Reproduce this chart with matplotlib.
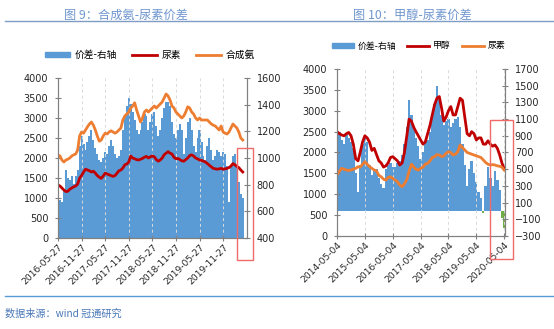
import numpy as np
import pandas as pd
import matplotlib
matplotlib.use("Agg")
import matplotlib.pyplot as plt
from matplotlib.patches import Rectangle, Patch
from matplotlib.lines import Line2D

plt.rcParams['font.family'] = ['Noto Sans CJK SC', 'DejaVu Sans']

# =========================
# DATA - chart 9 (half-monthly, from 2016-05-27)
# =========================
ammonia = [2075, 2050, 1950, 1900, 1950, 1970, 2000, 2050, 2080, 2100,
           2200, 2550, 2650, 2620, 2700, 2780, 2850, 2900, 2820, 2700,
           2550, 2420, 2450, 2550, 2620, 2600, 2650, 2680, 2650, 2620,
           2650, 2700, 2750, 2950, 3050, 3100, 3150, 3250, 3300, 3380,
           3200, 3050, 2900, 3000, 3150, 3200, 3150, 3200, 3250, 3300,
           3250, 3300, 3350, 3400, 3500, 3600, 3550, 3450, 3300, 3250,
           3150, 3100, 3050, 3000, 3050, 3150, 3280, 3250, 3150, 3100,
           3000, 2950, 3000, 2950, 2950, 2950, 2950, 2900, 2850, 2820,
           2800, 2750, 2700, 2800, 2650, 2620, 2600, 2650, 2750, 2850,
           2800, 2750, 2650, 2500, 2450]
urea9 = [1325, 1300, 1250, 1200, 1160, 1170, 1220, 1250, 1280, 1300,
         1350, 1500, 1560, 1650, 1720, 1700, 1680, 1650, 1670, 1620,
         1560, 1520, 1490, 1550, 1620, 1600, 1580, 1560, 1540, 1560,
         1620, 1680, 1700, 1750, 1830, 1850, 1900, 2050, 2000, 1980,
         1960, 1950, 1970, 1990, 2020, 2040, 2000, 2030, 2050, 2030,
         1960, 1920, 1950, 2000, 2080, 2120, 2160, 2120, 2100, 2020,
         1980, 1990, 1960, 1930, 1920, 1960, 2000, 2060, 2080, 2050,
         2000, 1980, 1950, 1940, 1920, 1900, 1860, 1820, 1780, 1740,
         1730, 1720, 1730, 1740, 1720, 1730, 1740, 1760, 1800, 1860,
         1830, 1790, 1760, 1700, 1650]
spread9 = [730, 685, 670, 760, 910, 850, 835, 865, 805, 865,
           910, 1090, 1165, 1105, 1060, 1120, 1165, 1210, 1135, 1075,
           1030, 985, 970, 1000, 1045, 1030, 1090, 1135, 1090, 1030,
           1000, 1015, 1060, 1210, 1315, 1390, 1450, 1405, 1345, 1285,
           1210, 1180, 1210, 1270, 1330, 1315, 1210, 1270, 1330, 1345,
           1240, 1165, 1210, 1300, 1375, 1420, 1420, 1390, 1270, 1180,
           1150, 1210, 1255, 1210, 1030, 1150, 1270, 1300, 1210, 1090,
           1045, 1150, 1210, 1120, 1015, 985, 1090, 1150, 1060, 985,
           1015, 1060, 1045, 1015, 1045, 1030, 940, 670, 940, 1015,
           1030, 940, 820, 730, 700]
dates9 = pd.Timestamp("2016-05-27") + pd.to_timedelta(np.arange(len(ammonia)) * 15.2, unit="D")
ticklabels9 = ["2016-05-27", "2016-11-27", "2017-05-27", "2017-11-27",
               "2018-05-27", "2018-11-27", "2019-05-27", "2019-11-27"]
xend9 = "2020-05-27"

# =========================
# DATA - chart 10 (monthly, from 2014-05)
# =========================
methanol = [2500, 2450, 2420, 2400, 2450, 2480, 2400, 2200, 1850, 1800,
            2000, 2250, 2400, 2350, 2250, 2050, 2100, 1950, 1800, 1750,
            1650, 1680, 1750, 1880, 1900, 1850, 1800, 1700, 1750, 2000,
            2400, 2800, 2750, 2600, 2500, 2400, 2300, 2200, 2250, 2450,
            2650, 2900, 3150, 3300, 3340, 3050, 2750, 2850, 3000, 3100,
            2900, 2900, 3100, 3300, 3250, 2850, 2450, 2400, 2500, 2450,
            2300, 2350, 2350, 2200, 2200, 2280, 2200, 2150, 2180, 2100,
            1950, 1750, 1600]
urea10 = [1460, 1550, 1620, 1600, 1580, 1570, 1580, 1600, 1620, 1660,
          1650, 1720, 1780, 1720, 1660, 1620, 1580, 1560, 1450, 1420,
          1360, 1340, 1400, 1420, 1380, 1340, 1300, 1220, 1180, 1250,
          1350, 1550, 1720, 1650, 1600, 1580, 1620, 1650, 1720, 1740,
          1800, 1880, 1900, 1950, 1940, 1900, 1920, 1980, 2020, 2000,
          1940, 1960, 2020, 2180, 2120, 2060, 2000, 1980, 1960, 1940,
          1920, 1900, 1880, 1820, 1760, 1720, 1700, 1710, 1700, 1680,
          1670, 1650, 1580]
spread10 = [1050, 950, 850, 800, 925, 875, 825, 750, 450, 225,
            550, 800, 900, 825, 550, 425, 475, 500, 400, 325,
            275, 500, 550, 575, 525, 525, 575, 600, 675, 800,
            1000, 1325, 1150, 1000, 875, 775, 625, 700, 825, 850,
            950, 1150, 1275, 1500, 1350, 1150, 1025, 1075, 1100, 1000,
            1050, 1100, 1125, 1000, 800, 550, 300, 500, 600, 450,
            350, 225, 150, -25, 300, 525, 400, 300, 475, 375,
            250, -80, -200]
dates10 = pd.date_range("2014-05-01", periods=len(methanol), freq="MS") + pd.Timedelta(days=3)
ticklabels10 = ["2014-05-04", "2015-05-04", "2016-05-04", "2017-05-04",
                "2018-05-04", "2019-05-04", "2020-05-04"]

BLUE = "#5b9bd5"
GREEN = "#70ad47"
RED = "#c00000"
ORANGE = "#ed7d31"
TITLE_C = "#6f96cf"
BOX_C = "#f06a6a"


def style_axes(ax, ax2, labels):
    for a in (ax, ax2):
        for s in a.spines.values():
            s.set_color("#808080")
            s.set_linewidth(0.8)
        a.spines['top'].set_visible(False)
        a.tick_params(axis='y', direction='inout', length=4, width=0.8, color="#808080",
                      labelsize=7, pad=5, labelfontfamily='DejaVu Sans', labelcolor="#262626")
    ax.tick_params(axis='x', direction='inout', length=4, width=0.8, color="#808080",
                   labelsize=6.6, pad=1, labelfontfamily='DejaVu Sans', labelcolor="#262626")
    ticks = pd.to_datetime(labels)
    ax.set_xticks(ticks)
    ax.set_xticklabels(labels, rotation=45, ha='right', rotation_mode='anchor')
    for t in ticks:
        ax.axvline(t, color="#d9d9d9", linestyle=(0, (3, 3)), linewidth=0.7, zorder=0)


fig = plt.figure(figsize=(5.54, 3.29), dpi=100)

# -------------------------
# Chart 9
# -------------------------
ax1 = fig.add_axes([0.1047, 0.2766, 0.341, 0.4863])
ax1b = ax1.twinx()
ax1.set_zorder(ax1b.get_zorder() + 1)
ax1.patch.set_visible(False)
ax1b.bar(dates9, np.array(spread9) - 400, bottom=400, width=16, color=BLUE, linewidth=0)
ax1.plot(dates9, urea9, color=RED, linewidth=2)
ax1.plot(dates9, ammonia, color=ORANGE, linewidth=2)
ax1.set_ylim(0, 4000)
ax1.set_yticks(np.arange(0, 4001, 500))
ax1b.set_ylim(400, 1600)
ax1b.set_yticks(np.arange(400, 1601, 200))
ax1.set_xlim(pd.Timestamp(ticklabels9[0]), pd.Timestamp(xend9))
style_axes(ax1, ax1b, ticklabels9)
ax1.add_patch(Rectangle((pd.Timestamp("2020-03-08"), -550), pd.Timedelta(days=130), 2800,
                        fill=False, edgecolor=BOX_C, linewidth=1, clip_on=False, zorder=5))
ax1.legend(handles=[Patch(color=BLUE), Line2D([], [], color=RED, lw=2), Line2D([], [], color=ORANGE, lw=2)],
           labels=["价差-右轴", "尿素", "合成氨"], ncol=3, frameon=False, fontsize=7,
           loc='center', bbox_to_anchor=(0.487, 1.144), handlelength=2.6, handleheight=0.5,
           columnspacing=1.5, handletextpad=0.5)

# -------------------------
# Chart 10
# -------------------------
ax2 = fig.add_axes([0.6083, 0.2827, 0.3032, 0.5076])
ax2b = ax2.twinx()
ax2.set_zorder(ax2b.get_zorder() + 1)
ax2.patch.set_visible(False)
spread10 = np.array(spread10)
ax2b.bar(dates10, spread10, width=31, linewidth=0,
         color=[BLUE if v >= 0 else GREEN for v in spread10])
ax2.plot(dates10, methanol, color=RED, linewidth=2)
ax2.plot(dates10, urea10, color=ORANGE, linewidth=2)
ax2.set_ylim(0, 4000)
ax2.set_yticks(np.arange(0, 4001, 500))
ax2b.set_ylim(-300, 1700)
ax2b.set_yticks(np.arange(-300, 1701, 200))
ax2.set_xlim(pd.Timestamp(ticklabels10[0]), pd.Timestamp(ticklabels10[-1]) + pd.Timedelta(days=10))
style_axes(ax2, ax2b, ticklabels10)
ax2.add_patch(Rectangle((pd.Timestamp("2019-11-01"), -551), pd.Timedelta(days=305), 3330,
                        fill=False, edgecolor=BOX_C, linewidth=1, clip_on=False, zorder=5))
ax2.legend(handles=[Patch(color=BLUE), Line2D([], [], color=RED, lw=2), Line2D([], [], color=ORANGE, lw=2)],
           labels=["价差-右轴", "甲醇", "尿素"], ncol=3, frameon=False, fontsize=6.4,
           loc='center', bbox_to_anchor=(0.485, 1.138), handlelength=2.5, handleheight=0.5,
           columnspacing=1.25, handletextpad=0.4)

# -------------------------
# Titles, rules and source
# -------------------------
fig.text(0.228, 0.953, "图 9：合成氨-尿素价差", color=TITLE_C, fontsize=8.8, ha='center', va='center')
fig.text(0.745, 0.953, "图 10：甲醇-尿素价差", color=TITLE_C, fontsize=8.8, ha='center', va='center')
fig.add_artist(Line2D([0.009, 1.0], [0.937, 0.937], color="#7f9cc4", linewidth=1))
fig.add_artist(Line2D([0.009, 1.0], [0.101, 0.101], color=BLUE, linewidth=1))
fig.text(0.009, 0.048, "数据来源：wind 冠通研究", color="#4a78b8", fontsize=7.3, ha='left', va='center')

plt.savefig("out.png", dpi=100)
plt.close()
